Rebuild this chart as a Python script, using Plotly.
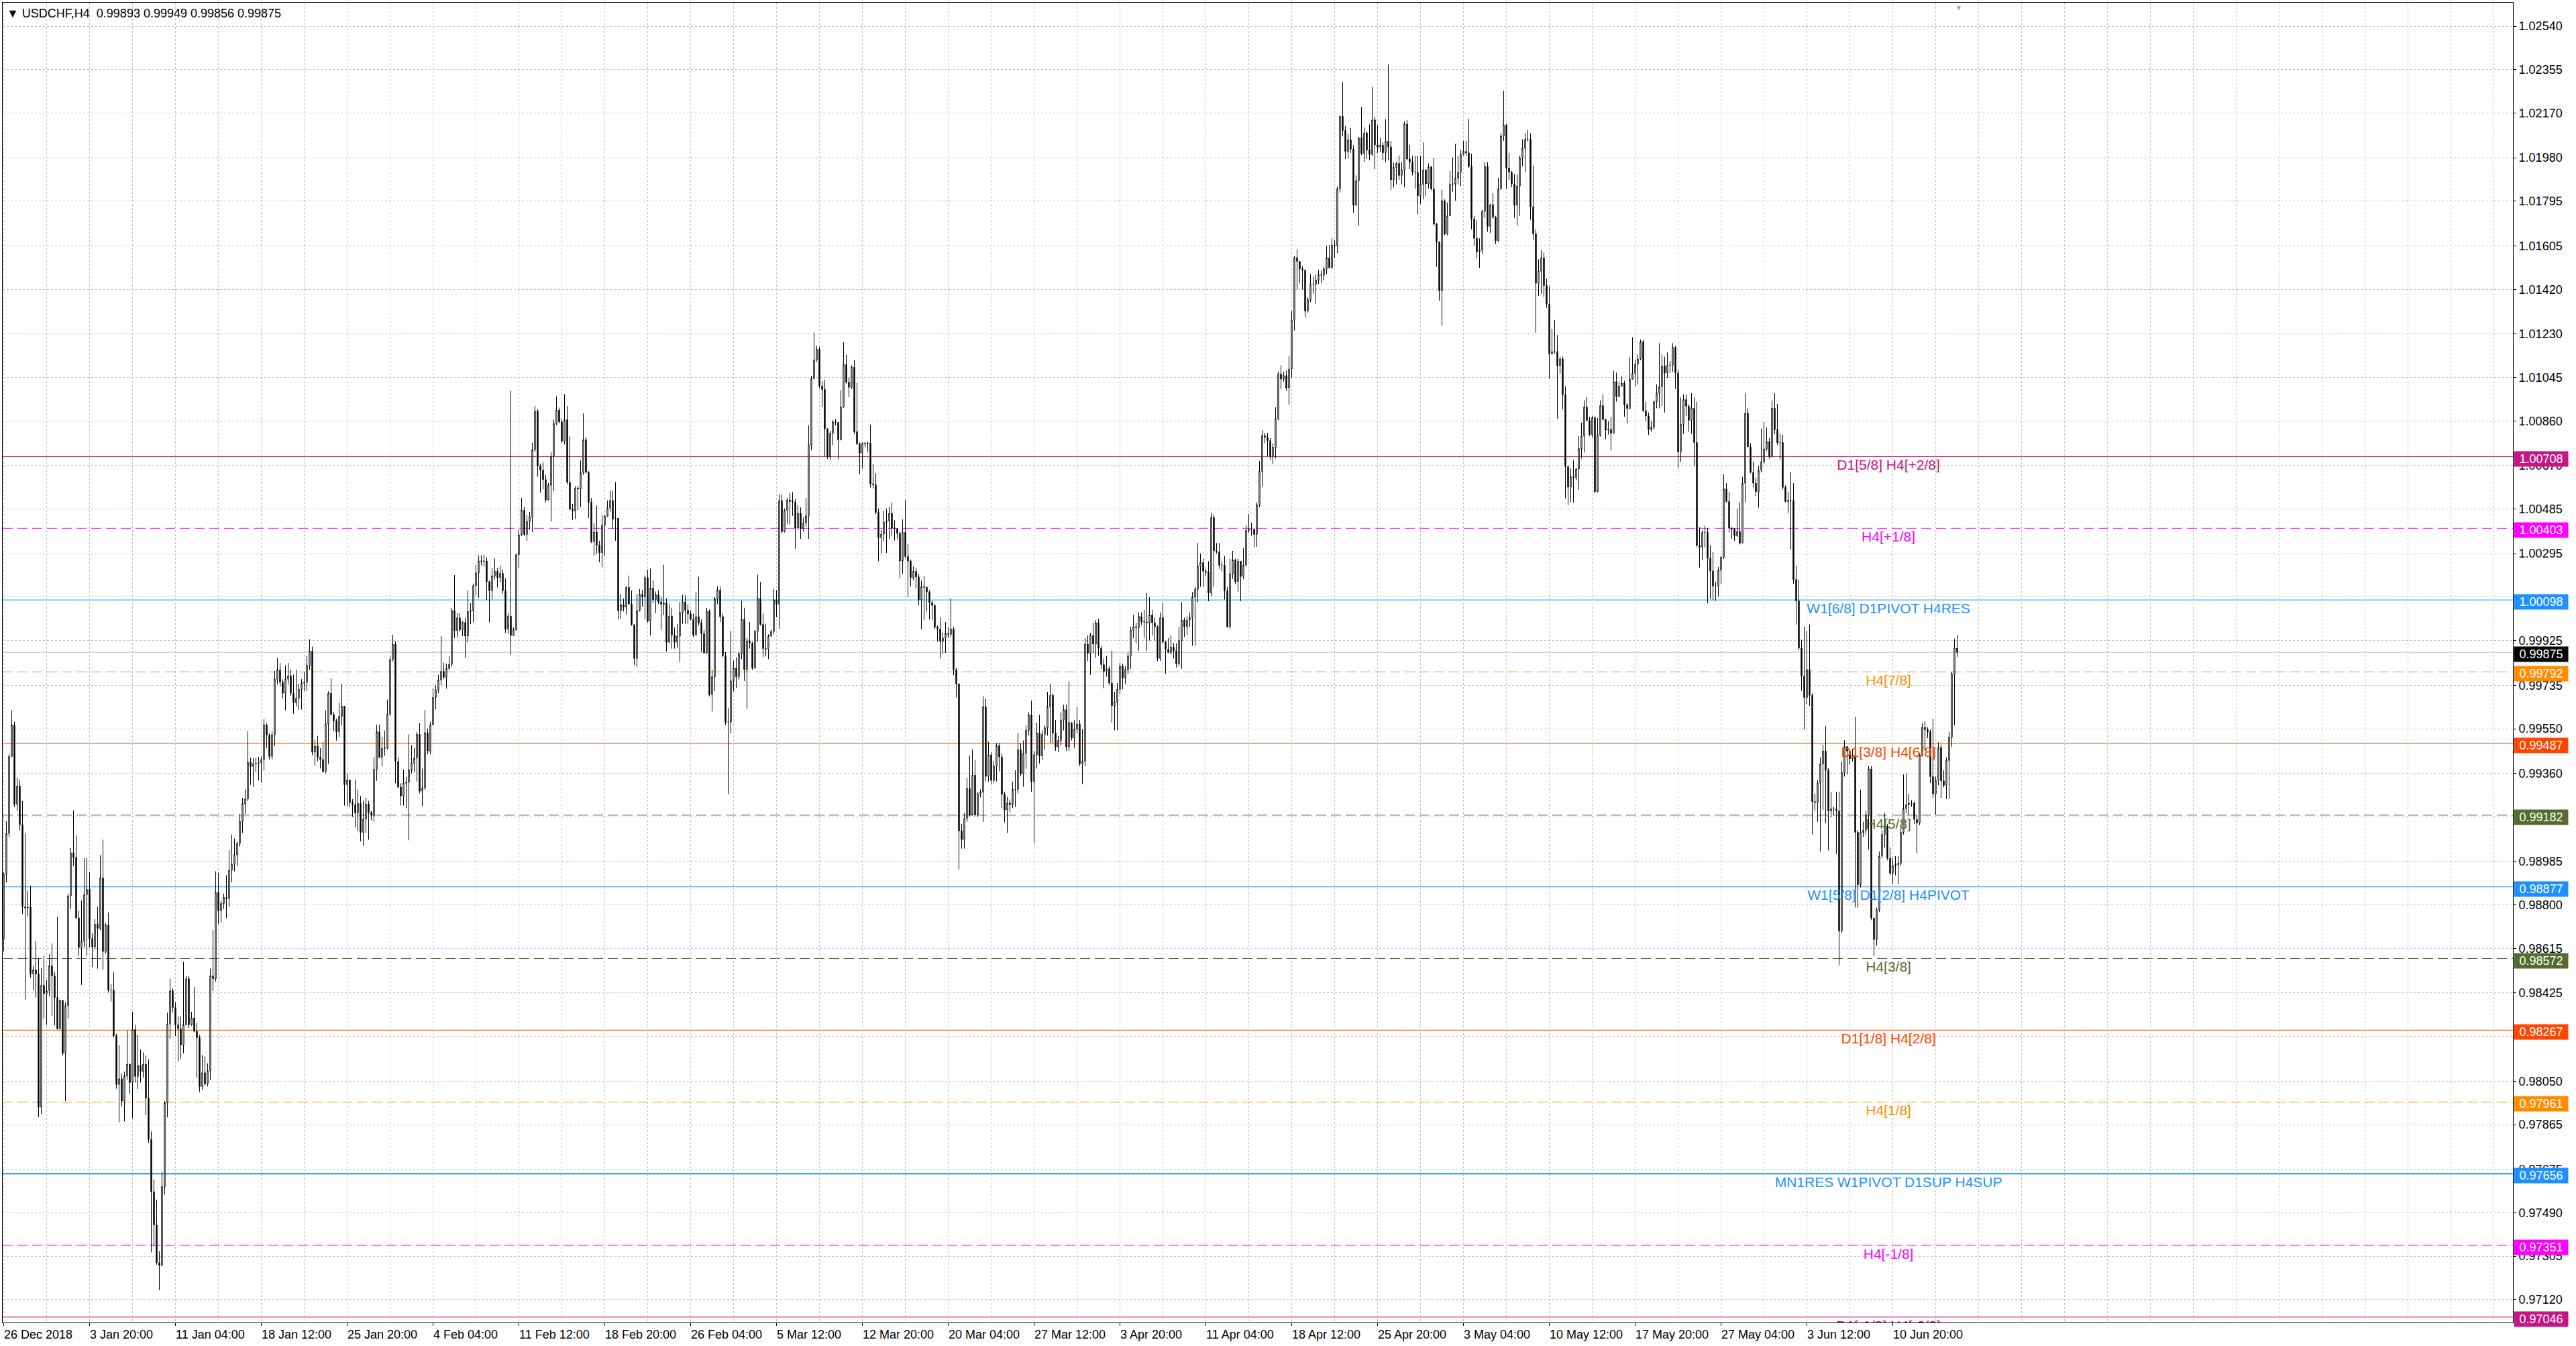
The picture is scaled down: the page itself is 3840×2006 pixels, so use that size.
import plotly.graph_objects as go

# USDCHF H4 candles, prices in 1e-5 units (points). Open of each bar = previous close.
FIRST_OPEN = 98654

CLOSE = [
    98930, 99104, 99432, 99566, 99228, 99306, 99142, 98792, 98787, 98790,  # 1
    98506, 98524, 98506, 97939, 98458, 98423, 98435, 98541, 98498, 98406,  # 11
    98273, 98394, 98169, 98371, 98839, 99022, 99003, 98745, 98619, 98645,  # 21
    98844, 98866, 98657, 98622, 98718, 98700, 98915, 98602, 98714, 98437,  # 31
    98437, 98243, 98036, 98060, 97965, 98072, 98122, 98044, 98269, 98070,  # 41
    98117, 98091, 98122, 97978, 97802, 97580, 97438, 97277, 97265, 97601,  # 51
    97958, 98293, 98435, 98363, 98290, 98273, 98204, 98290, 98486, 98290,  # 61
    98319, 98262, 98235, 98027, 98086, 98039, 98094, 98498, 98486, 98853,  # 71
    98775, 98806, 98832, 98827, 98948, 98974, 99014, 99062, 99156, 99230,  # 81
    99251, 99407, 99389, 99401, 99403, 99405, 99419, 99566, 99523, 99432,  # 91
    99524, 99761, 99800, 99748, 99701, 99761, 99775, 99701, 99660, 99680,  # 101
    99718, 99744, 99748, 99820, 99880, 99450, 99476, 99429, 99419, 99368,  # 111
    99571, 99701, 99611, 99583, 99537, 99603, 99646, 99312, 99332, 99236,  # 121
    99227, 99191, 99232, 99109, 99165, 99229, 99193, 99182, 99377, 99537,  # 131
    99428, 99466, 99469, 99612, 99844, 99909, 99411, 99302, 99264, 99318,  # 141
    99322, 99376, 99403, 99425, 99526, 99284, 99298, 99533, 99455, 99567,  # 151
    99683, 99715, 99758, 99794, 99769, 99806, 99824, 100053, 99967, 100022,  # 161
    99971, 100002, 99944, 100049, 100052, 100159, 100213, 100264, 100262, 100264,  # 171
    100176, 100138, 100200, 100220, 100193, 100211, 100138, 99974, 100029, 99947,  # 181
    99971, 100291, 100375, 100480, 100377, 100432, 100452, 100737, 100901, 100668,  # 191
    100651, 100610, 100524, 100586, 100709, 100849, 100906, 100856, 100774, 100865,  # 201
    100599, 100484, 100476, 100575, 100570, 100640, 100780, 100641, 100514, 100346,  # 211
    100387, 100332, 100299, 100416, 100455, 100489, 100521, 100442, 100446, 100053,  # 221
    100077, 100067, 100152, 100081, 99992, 99849, 100053, 100122, 100111, 100193,  # 231
    100008, 100148, 100100, 100120, 100090, 100080, 100085, 99918, 100030, 99949,  # 241
    99918, 99944, 100045, 100090, 100054, 100039, 100016, 99949, 100027, 100000,  # 251
    99955, 99873, 100050, 99695, 99771, 100102, 100140, 100027, 99861, 99578,  # 261
    99578, 99753, 99808, 99771, 99869, 100015, 99801, 99924, 99914, 99808,  # 271
    99964, 100105, 99994, 99891, 99888, 99944, 99964, 100099, 100080, 100521,  # 281
    100389, 100479, 100524, 100517, 100515, 100404, 100467, 100401, 100426, 100456,  # 291
    100758, 101040, 101120, 101165, 101009, 100994, 100826, 100708, 100808, 100856,  # 301
    100853, 100780, 100919, 101100, 101025, 101003, 101089, 100814, 100762, 100723,  # 311
    100765, 100762, 100765, 100592, 100588, 100471, 100363, 100378, 100429, 100434,  # 321
    100467, 100404, 100401, 100381, 100264, 100386, 100283, 100264, 100193, 100220,  # 331
    100196, 100099, 100155, 100152, 100132, 100087, 100075, 99982, 99974, 99921,  # 341
    99936, 99955, 99952, 99974, 99801, 99741, 99115, 99078, 99168, 99296,  # 351
    99183, 99352, 99183, 99273, 99281, 99643, 99347, 99439, 99330, 99391,  # 361
    99478, 99430, 99271, 99205, 99234, 99227, 99292, 99292, 99460, 99358,  # 371
    99445, 99543, 99609, 99325, 99439, 99532, 99434, 99526, 99554, 99642,  # 381
    99692, 99532, 99473, 99500, 99587, 99631, 99473, 99576, 99511, 99548,  # 391
    99570, 99401, 99412, 99910, 99871, 99947, 99910, 100001, 99892, 99823,  # 401
    99794, 99805, 99744, 99648, 99663, 99718, 99816, 99766, 99801, 99860,  # 411
    99969, 99984, 99980, 100028, 100006, 100004, 100001, 100034, 100001, 99984,  # 421
    99849, 100023, 99919, 99888, 99875, 99897, 99882, 99827, 99925, 100012,  # 431
    99984, 100012, 100023, 100110, 100143, 100242, 100257, 100220, 100215, 100128,  # 441
    100449, 100307, 100302, 100246, 100246, 100137, 99984, 100209, 100268, 100176,  # 451
    100263, 100198, 100246, 100394, 100399, 100399, 100377, 100503, 100645, 100798,  # 461
    100791, 100776, 100710, 100748, 100870, 101060, 101038, 101053, 101001, 101081,  # 471
    101289, 101555, 101539, 101507, 101502, 101328, 101376, 101441, 101441, 101460,  # 481
    101482, 101480, 101507, 101554, 101512, 101608, 101605, 101848, 102156, 102096,  # 491
    102007, 102056, 102017, 101778, 101882, 102065, 101998, 102086, 102013, 101994,  # 501
    102141, 102035, 102025, 102033, 102001, 102050, 102026, 101886, 101939, 101956,  # 511
    101905, 101928, 102124, 101975, 101962, 101918, 101918, 101818, 101867, 101928,  # 521
    101869, 101941, 101848, 101698, 101621, 101414, 101797, 101656, 101733, 101867,  # 531
    101869, 101892, 101918, 101994, 102007, 102001, 101943, 101720, 101637, 101580,  # 541
    101586, 101752, 101943, 101688, 101780, 101727, 101627, 101848, 102073, 102119,  # 551
    101937, 101918, 101869, 101778, 101860, 101979, 102020, 102058, 102058, 101771,  # 561
    101656, 101446, 101497, 101554, 101436, 101357, 101146, 101155, 101155, 101095,  # 571
    101124, 100971, 100665, 100578, 100623, 100619, 100655, 100742, 100795, 100919,  # 581
    100862, 100802, 100874, 100559, 100798, 100925, 100866, 100821, 100824, 100808,  # 591
    101027, 100964, 101007, 101021, 100929, 100913, 101038, 101063, 101101, 101124,  # 601
    101197, 100904, 100881, 100823, 100832, 100942, 100978, 101005, 101093, 101064,  # 611
    101097, 101097, 101173, 101064, 100728, 100845, 100951, 100923, 100863, 100914,  # 621
    100768, 100331, 100322, 100385, 100385, 100276, 100221, 100157, 100157, 100225,  # 631
    100280, 100571, 100517, 100404, 100400, 100371, 100389, 100340, 100595, 100892,  # 641
    100750, 100641, 100595, 100559, 100650, 100686, 100741, 100772, 100710, 100914,  # 651
    100823, 100768, 100768, 100577, 100517, 100522, 100522, 100185, 100094, 99893,  # 661
    99775, 99683, 99802, 99692, 99240, 99236, 99318, 99400, 99455, 99373,  # 671
    99200, 99209, 99209, 99200, 98689, 99364, 99474, 99455, 99422, 99437,  # 681
    99109, 98886, 99109, 99118, 99182, 99379, 98744, 98653, 98780, 99008,  # 691
    99100, 99136, 98999, 98935, 98966, 98972, 98977, 99109, 99209, 99227,  # 701
    99233, 99233, 99164, 99149, 99437, 99556, 99546, 99537, 99346, 99273,  # 711
    99331, 99470, 99328, 99309, 99415, 99514, 99783, 99893, 99875,  # 721
]

HIGH = [
    98939, 99156, 99441, 99628, 99580, 99342, 99332, 99242, 99104, 98861,
    98882, 98541, 98647, 98571, 98532, 98584, 98480, 98590, 98636, 98515,
    98749, 98397, 98377, 98385, 98847, 99043, 99202, 99097, 98775, 98818,
    99000, 99000, 98939, 98680, 98740, 98792, 99012, 99078, 98723, 98768,
    98463, 98515, 98252, 98204, 98083, 98091, 98266, 98126, 98345, 98290,
    98247, 98186, 98172, 98160, 98143, 97836, 97632, 97546, 97326, 97663,
    97966, 98342, 98487, 98446, 98385, 98325, 98325, 98558, 98498, 98498,
    98345, 98451, 98297, 98247, 98160, 98155, 98126, 98529, 98693, 98943,
    98936, 98818, 98848, 98927, 99034, 99100, 99083, 99069, 99187, 99256,
    99294, 99540, 99427, 99424, 99426, 99430, 99432, 99592, 99574, 99530,
    99540, 99796, 99850, 99830, 99760, 99820, 99830, 99800, 99780, 99800,
    99740, 99761, 99790, 99860, 99930, 99900, 99502, 99519, 99467, 99493,
    99628, 99709, 99765, 99622, 99592, 99660, 99742, 99646, 99357, 99310,
    99250, 99332, 99291, 99264, 99243, 99257, 99243, 99200, 99430, 99567,
    99568, 99516, 99542, 99674, 99858, 99950, 99922, 99430, 99318, 99376,
    99346, 99526, 99480, 99469, 99537, 99574, 99380, 99630, 99551, 99580,
    99721, 99735, 99780, 99944, 99831, 99827, 99858, 100063, 100204, 100042,
    100042, 100008, 100022, 100138, 100084, 100168, 100247, 100288, 100288, 100290,
    100280, 100180, 100234, 100275, 100234, 100245, 100227, 100190, 100042, 100988,
    99981, 100295, 100398, 100532, 100493, 100459, 100473, 100767, 100924, 100910,
    100678, 100685, 100630, 100596, 100726, 100865, 100965, 100917, 100869, 100974,
    100924, 100794, 100507, 100582, 100582, 100692, 100892, 100791, 100646, 100532,
    100425, 100500, 100350, 100459, 100459, 100521, 100565, 100562, 100600, 100448,
    100124, 100104, 100155, 100202, 100138, 99995, 100124, 100145, 100141, 100202,
    100227, 100231, 100182, 100134, 100140, 100110, 100248, 100105, 100080, 100065,
    99981, 99997, 100090, 100120, 100118, 100080, 100054, 100040, 100132, 100196,
    100015, 99970, 100065, 100058, 99801, 100110, 100155, 100155, 100040, 99876,
    99638, 99967, 99839, 99854, 99876, 100095, 100065, 99936, 100004, 99920,
    99970, 100205, 100175, 100040, 99997, 99952, 99970, 100144, 100140, 100547,
    100547, 100487, 100532, 100554, 100557, 100527, 100502, 100492, 100449, 100532,
    100841, 101052, 101236, 101180, 101175, 101029, 101034, 100829, 100818, 100863,
    100868, 100856, 100991, 101195, 101142, 101044, 101097, 101120, 101022, 100768,
    100768, 100770, 100772, 100844, 100675, 100637, 100487, 100396, 100479, 100487,
    100494, 100512, 100437, 100404, 100389, 100441, 100524, 100336, 100270, 100241,
    100235, 100208, 100181, 100200, 100155, 100140, 100095, 100080, 99990, 100024,
    99959, 100004, 99982, 100105, 99982, 99808, 99744, 99145, 99190, 99341,
    99436, 99462, 99417, 99281, 99292, 99688, 99679, 99495, 99450, 99412,
    99489, 99489, 99445, 99282, 99260, 99249, 99325, 99373, 99532, 99489,
    99500, 99565, 99620, 99670, 99456, 99576, 99609, 99543, 99565, 99707,
    99740, 99700, 99587, 99520, 99620, 99652, 99652, 99751, 99570, 99587,
    99642, 99587, 99548, 99936, 99947, 99958, 100001, 100012, 100018, 99903,
    99849, 99860, 99816, 99882, 99707, 99744, 99831, 99827, 99816, 99875,
    99984, 100034, 100001, 100045, 100045, 100056, 100128, 100110, 100056, 100023,
    99990, 100045, 100089, 99925, 99936, 99947, 99914, 99914, 99984, 100089,
    100023, 100028, 100045, 100132, 100154, 100340, 100296, 100274, 100231, 100263,
    100470, 100460, 100340, 100340, 100263, 100285, 100154, 100274, 100307, 100274,
    100274, 100242, 100318, 100416, 100464, 100427, 100405, 100514, 100689, 100820,
    100809, 100809, 100787, 100765, 100918, 101070, 101097, 101070, 101075, 101136,
    101328, 101562, 101590, 101539, 101518, 101502, 101387, 101485, 101474, 101484,
    101503, 101500, 101516, 101605, 101608, 101637, 101631, 101857, 102160, 102303,
    102116, 102081, 102107, 102033, 101905, 102067, 102196, 102109, 102094, 102122,
    102281, 102154, 102119, 102065, 102045, 102145, 102377, 102052, 101959, 101962,
    101990, 101962, 102135, 102141, 102035, 101988, 101988, 101988, 101988, 102045,
    101931, 101956, 101946, 101979, 101703, 101625, 101844, 101803, 101790, 101924,
    101982, 102039, 101988, 102013, 102052, 102052, 102145, 101997, 101733, 101714,
    101637, 101758, 101962, 101962, 101784, 101829, 101733, 101895, 102084, 102265,
    102124, 102001, 101924, 101911, 101911, 101988, 102058, 102084, 102099, 102084,
    101946, 101675, 101548, 101586, 101576, 101465, 101431, 101252, 101290, 101226,
    101133, 101133, 101007, 100670, 100658, 100693, 100661, 100795, 100853, 100948,
    100961, 100878, 100882, 100878, 100872, 100948, 100974, 100870, 100859, 100878,
    101073, 101066, 101027, 101050, 101031, 100935, 101130, 101216, 101121, 101142,
    101206, 101205, 100942, 100896, 100860, 100947, 101015, 101191, 101142, 101133,
    101151, 101115, 101191, 101179, 101078, 100960, 100973, 100973, 100929, 100978,
    100960, 100942, 100407, 100394, 100413, 100404, 100331, 100303, 100176, 100239,
    100285, 100632, 100595, 100559, 100407, 100404, 100486, 100513, 100622, 100978,
    100914, 100765, 100686, 100619, 100668, 100827, 100856, 100832, 100787, 100947,
    100978, 100932, 100805, 100801, 100586, 100559, 100641, 100595, 100243, 100185,
    99929, 99984, 99966, 99993, 99701, 99273, 99331, 99428, 99483, 99561,
    99382, 99282, 99218, 99282, 99282, 99410, 99501, 99474, 99446, 99464,
    99601, 99118, 99291, 99154, 99200, 99391, 99391, 98744, 98789, 99027,
    99118, 99191, 99145, 99045, 98999, 99008, 99008, 99127, 99355, 99360,
    99273, 99246, 99240, 99182, 99446, 99574, 99583, 99556, 99546, 99592,
    99346, 99492, 99483, 99373, 99428, 99537, 99793, 99933, 99949,
]

LOW = [
    98602, 98896, 99090, 99436, 99216, 99199, 99117, 98761, 98397, 98750,
    98490, 98437, 98406, 97897, 97909, 98316, 98290, 98411, 98328, 98287,
    98270, 98270, 98160, 97965, 98316, 98783, 98965, 98740, 98584, 98460,
    98619, 98584, 98619, 98536, 98610, 98529, 98692, 98524, 98593, 98428,
    98389, 98238, 98018, 97875, 97943, 97879, 98056, 97996, 97892, 98044,
    98016, 98044, 98065, 97906, 97788, 97321, 97347, 97269, 97161, 97265,
    97566, 97896, 98230, 98342, 98242, 98134, 98146, 98169, 98290, 98276,
    98286, 98259, 98065, 98004, 98013, 98030, 98027, 98056, 98434, 98474,
    98719, 98726, 98783, 98744, 98792, 98896, 98943, 98965, 99048, 99107,
    99187, 99242, 99311, 99303, 99367, 99330, 99320, 99372, 99467, 99420,
    99420, 99476, 99740, 99730, 99680, 99628, 99740, 99690, 99614, 99644,
    99630, 99632, 99710, 99710, 99800, 99436, 99394, 99412, 99381, 99363,
    99360, 99400, 99606, 99540, 99500, 99516, 99564, 99223, 99219, 99216,
    99175, 99130, 99113, 99070, 99052, 99107, 99078, 99160, 99154, 99328,
    99425, 99391, 99435, 99462, 99605, 99837, 99318, 99298, 99223, 99223,
    99212, 99075, 99359, 99366, 99325, 99275, 99220, 99290, 99441, 99441,
    99564, 99633, 99701, 99735, 99762, 99721, 99800, 99813, 99936, 99940,
    99963, 99944, 99851, 99917, 99995, 100002, 100118, 100108, 100245, 100240,
    100097, 100002, 100100, 100186, 100152, 100172, 100125, 99958, 99954, 99865,
    99944, 99967, 100234, 100370, 100370, 100350, 100398, 100387, 100726, 100623,
    100555, 100569, 100514, 100521, 100432, 100562, 100842, 100849, 100767, 100760,
    100589, 100480, 100439, 100443, 100480, 100493, 100630, 100637, 100446, 100340,
    100286, 100295, 100258, 100237, 100286, 100452, 100473, 100401, 100350, 100015,
    100018, 100049, 100036, 100077, 99988, 99821, 99813, 100049, 100070, 100015,
    100002, 99947, 100084, 100042, 100080, 99970, 100034, 99879, 99915, 99891,
    99891, 99894, 99834, 99997, 99997, 99997, 100012, 99939, 99945, 99989,
    99876, 99869, 99869, 99688, 99623, 99710, 100080, 100004, 99854, 99567,
    99270, 99530, 99710, 99723, 99759, 99846, 99753, 99635, 99891, 99801,
    99808, 99922, 99989, 99854, 99858, 99846, 99940, 99952, 100024, 99974,
    100381, 100385, 100422, 100419, 100456, 100316, 100396, 100358, 100389, 100411,
    100358, 100735, 101037, 101112, 100999, 100919, 100708, 100698, 100693, 100758,
    100841, 100698, 100777, 100916, 101019, 100961, 100995, 100803, 100758, 100633,
    100657, 100748, 100728, 100577, 100572, 100464, 100263, 100298, 100346, 100298,
    100358, 100369, 100351, 100358, 100190, 100208, 100276, 100110, 100155, 100181,
    100147, 100075, 99974, 100012, 100050, 100015, 100012, 99974, 99921, 99849,
    99869, 99873, 99936, 99940, 99778, 99683, 98950, 99040, 99040, 99153,
    99176, 99180, 99176, 99176, 99258, 99153, 99325, 99325, 99314, 99320,
    99325, 99369, 99212, 99151, 99107, 99194, 99212, 99216, 99275, 99347,
    99303, 99380, 99521, 99282, 99063, 99380, 99402, 99417, 99460, 99521,
    99489, 99489, 99456, 99450, 99478, 99543, 99456, 99456, 99500, 99467,
    99532, 99391, 99314, 99391, 99838, 99779, 99871, 99853, 99860, 99805,
    99722, 99772, 99735, 99576, 99543, 99543, 99696, 99718, 99740, 99783,
    99805, 99936, 99914, 99882, 99990, 99936, 99882, 99925, 99947, 99925,
    99838, 99838, 99914, 99783, 99871, 99866, 99849, 99810, 99816, 99805,
    99940, 99947, 99984, 99903, 99903, 100089, 100154, 100154, 100202, 100093,
    100115, 100154, 100296, 100231, 100220, 100100, 99980, 99975, 100187, 100165,
    100132, 100093, 100187, 100242, 100383, 100372, 100324, 100324, 100492, 100580,
    100765, 100710, 100695, 100678, 100700, 100863, 100994, 101027, 100988, 100929,
    101044, 101245, 101419, 101446, 101419, 101300, 101321, 101365, 101402, 101359,
    101443, 101446, 101459, 101484, 101510, 101507, 101554, 101573, 101831, 102071,
    101975, 101979, 102001, 101746, 101775, 101691, 101991, 101962, 101975, 101969,
    101988, 101931, 102001, 102005, 101969, 101962, 101969, 101841, 101854, 101867,
    101886, 101867, 101854, 101969, 101931, 101905, 101848, 101739, 101784, 101803,
    101816, 101848, 101841, 101691, 101516, 101372, 101265, 101650, 101650, 101733,
    101835, 101797, 101867, 101860, 101990, 101988, 101937, 101675, 101605, 101554,
    101512, 101571, 101724, 101665, 101660, 101720, 101612, 101622, 101844, 102052,
    101848, 101886, 101854, 101724, 101691, 101733, 101943, 101920, 102048, 101716,
    101631, 101235, 101392, 101401, 101388, 101341, 101040, 101142, 101146, 100869,
    101061, 100910, 100530, 100502, 100515, 100512, 100607, 100568, 100700, 100725,
    100859, 100795, 100789, 100553, 100557, 100793, 100862, 100783, 100802, 100734,
    100805, 100942, 100961, 101012, 100878, 100849, 100910, 101036, 101006, 101015,
    101118, 100898, 100860, 100801, 100814, 100823, 100914, 100914, 100923, 100896,
    101042, 101064, 101069, 100996, 100659, 100686, 100805, 100881, 100814, 100805,
    100668, 100322, 100236, 100267, 100322, 100084, 100103, 100097, 100094, 100112,
    100166, 100272, 100513, 100385, 100358, 100349, 100365, 100334, 100345, 100513,
    100747, 100637, 100577, 100540, 100491, 100641, 100677, 100732, 100699, 100705,
    100805, 100759, 100695, 100568, 100513, 100467, 100312, 100166, 99993, 99884,
    99711, 99546, 99656, 99647, 99100, 99200, 99154, 99027, 99204, 99149,
    99032, 99173, 99182, 99018, 98543, 98680, 99346, 99355, 99397, 99410,
    98789, 98789, 98875, 99090, 99100, 99036, 98735, 98583, 98626, 98770,
    98999, 99045, 98990, 98926, 98890, 98926, 98890, 98966, 99100, 99191,
    99182, 99218, 99145, 99021, 99140, 99432, 99455, 99510, 99318, 99255,
    99182, 99309, 99255, 99300, 99251, 99251, 99473, 99565, 99856,
]

# Horizontal Murrey-style levels and their captions
LEVELS = [1.00708, 1.00403, 1.00098, 0.99792, 0.99487, 0.99182, 0.98877,
          0.98572, 0.98267, 0.97961, 0.97656, 0.97351, 0.97046]
LEVEL_NAMES = ["D1[5/8] H4[+2/8]", "H4[+1/8]", "W1[6/8] D1PIVOT H4RES",
               "H4[7/8]", "D1[3/8] H4[6/8]", "H4[5/8]", "W1[5/8] D1[2/8] H4PIVOT",
               "H4[3/8]", "D1[1/8] H4[2/8]", "H4[1/8]", "MN1RES W1PIVOT D1SUP H4SUP",
               "H4[-1/8]", "D1[-1/8] H4[-2/8]"]

Y_TICKS = [1.02540, 1.02355, 1.02170, 1.01980, 1.01795, 1.01605, 1.01420, 1.01230,
           1.01045, 1.00860, 1.00670, 1.00485, 1.00295, 1.00110, 0.99925, 0.99735,
           0.99550, 0.99360, 0.99175, 0.98985, 0.98800, 0.98615, 0.98425, 0.98240,
           0.98050, 0.97865, 0.97675, 0.97490, 0.97305, 0.97120]

X_LABELS = ["26 Dec 2018", "3 Jan 20:00", "11 Jan 04:00", "18 Jan 12:00", "25 Jan 20:00",
            "4 Feb 04:00", "11 Feb 12:00", "18 Feb 20:00", "26 Feb 04:00", "5 Mar 12:00",
            "12 Mar 20:00", "20 Mar 04:00", "27 Mar 12:00", "3 Apr 20:00", "11 Apr 04:00",
            "18 Apr 12:00", "25 Apr 20:00", "3 May 04:00", "10 May 12:00", "17 May 20:00",
            "27 May 04:00", "3 Jun 12:00", "10 Jun 20:00"]
BARS_PER_LABEL = 32

# ---- styling ----
FONT = "Liberation Sans, Arial, sans-serif"
MVR, MAG, BLUE, ORG, RED, OLV = "#C71585", "#FF00FF", "#1E90FF", "#FF8C00", "#FF4500", "#556B2F"
LEVEL_STYLE = [(MVR, 1, "solid"), (MAG, 1, "15px,7px"), (BLUE, 1, "solid"),
               (ORG, 1, "15px,7px"), (RED, 1, "solid"), (OLV, 1, "15px,7px"),
               (BLUE, 1, "solid"), (OLV, 1, "15px,7px"), (RED, 1, "solid"),
               (ORG, 1, "15px,7px"), (BLUE, 2, "solid"), (MAG, 1, "15px,7px"),
               (MVR, 1, "solid")]
GRID = "#C0C0C0"
CAPTION_BAR = 703.4
Y_RANGE = [0.970228, 1.02640]
PLOT_H = 2006 - 4 - 35
PX = (Y_RANGE[1] - Y_RANGE[0]) / PLOT_H      # price per pixel

n = min(len(CLOSE), len(HIGH), len(LOW))
bars = list(range(1, n + 1))
opens = [FIRST_OPEN] + CLOSE[:n - 1]
o = [v / 1e5 for v in opens]
c = [v / 1e5 for v in CLOSE[:n]]
h = [max(a, b, x) / 1e5 for a, b, x in zip(opens, CLOSE[:n], HIGH[:n])]
l = [min(a, b, x) / 1e5 for a, b, x in zip(opens, CLOSE[:n], LOW[:n])]
last_close = c[-1]

fig = go.Figure()

# level captions (clipped to the plot area like the terminal does), a few px under the line
fig.add_trace(go.Scatter(
    x=[CAPTION_BAR] * len(LEVELS), y=[lv - 4 * PX for lv in LEVELS], mode="text",
    text=LEVEL_NAMES, textposition="bottom center",
    textfont=dict(family=FONT, size=21, color=[s[0] for s in LEVEL_STYLE]),
    hoverinfo="skip", showlegend=False, cliponaxis=True))

fig.add_trace(go.Candlestick(
    x=bars, open=o, high=h, low=l, close=c,
    increasing=dict(line=dict(color="black", width=1), fillcolor="white"),
    decreasing=dict(line=dict(color="black", width=1), fillcolor="black"),
    whiskerwidth=0, showlegend=False, hoverinfo="skip"))

shapes = []
for lv, (col, w, dash) in zip(LEVELS, LEVEL_STYLE):
    shapes.append(dict(type="line", xref="paper", x0=0, x1=1, yref="y", y0=lv, y1=lv,
                       line=dict(color=col, width=w, dash=dash), layer="between"))
shapes.append(dict(type="line", xref="paper", x0=0, x1=1, yref="y", y0=last_close,
                   y1=last_close, line=dict(color="#C0C0C0", width=1), layer="between"))

annotations = []
# price tags on the axis (drawn slightly below their line, like the terminal)
TAG_SHIFT = 3
tags = [(lv, s[0]) for lv, s in zip(LEVELS, LEVEL_STYLE)] + [(last_close, "black")]
for lv, col in tags:
    annotations.append(dict(xref="paper", x=1, xanchor="left", xshift=1, yref="y", y=lv,
                            yanchor="middle", yshift=-TAG_SHIFT, text=f"{lv:.5f}",
                            showarrow=False, bgcolor=col, width=80, height=22, borderpad=0,
                            font=dict(family=FONT, size=18, color="white")))

# tick labels that sit fully under a price tag are left blank
def tick_text(v):
    covered = any(abs(v - (lv - TAG_SHIFT * PX)) < 7.5 * PX for lv, _ in tags)
    return "" if covered else f"{v:.5f}"

# time labels, left-aligned to their tick like the terminal
label_bars = [1 + i * BARS_PER_LABEL for i in range(len(X_LABELS))]
for b, t in zip(label_bars, X_LABELS):
    annotations.append(dict(xref="x", x=b, xanchor="left", xshift=-2, yref="paper", y=0,
                            yanchor="top", yshift=-6, text=t, showarrow=False,
                            font=dict(family=FONT, size=18, color="black")))

# header with symbol and last bar OHLC
hdr = "USDCHF,H4\u00a0\u00a0" + " ".join(f"{v:.5f}" for v in (o[-1], h[-1], l[-1], c[-1]))
annotations.append(dict(xref="paper", x=0, xanchor="left", xshift=4, yref="paper", y=1,
                        yanchor="top", yshift=-4, text="\u25BC " + hdr, showarrow=False,
                        font=dict(family=FONT, size=18, color="black")))
# chart shift marker
annotations.append(dict(xref="x", x=bars[-1] + 0.5, yref="paper", y=1, yanchor="top",
                        text="\u25BC", showarrow=False,
                        font=dict(family=FONT, size=10, color="#A0A0A0")))

fig.update_layout(
    width=3840, height=2006,
    margin=dict(l=4, r=94, t=4, b=35),
    paper_bgcolor="white", plot_bgcolor="white",
    font=dict(family=FONT, size=18, color="black"),
    showlegend=False, hovermode=False, boxgap=0.5,
    shapes=shapes, annotations=annotations,
    xaxis=dict(range=[0.625, 936.125], tickmode="array", tickvals=label_bars,
               showticklabels=False, ticks="outside", ticklen=4, tickcolor="black",
               showgrid=True, gridcolor=GRID, griddash="3px,3px", gridwidth=1,
               minor=dict(tick0=1, dtick=16, showgrid=True, gridcolor=GRID,
                          griddash="3px,3px", gridwidth=1, ticks=""),
               showline=True, linecolor="black", linewidth=1, mirror=True,
               zeroline=False, rangeslider=dict(visible=False), fixedrange=True),
    yaxis=dict(range=Y_RANGE, side="right", tickmode="array",
               tickvals=Y_TICKS, ticktext=[tick_text(v) for v in Y_TICKS],
               ticks="outside", ticklen=4, tickcolor="black",
               tickfont=dict(family=FONT, size=18, color="black"),
               showgrid=True, gridcolor=GRID, griddash="3px,3px", gridwidth=1,
               showline=True, linecolor="black", linewidth=1, mirror=True,
               zeroline=False, fixedrange=True),
)

fig.write_html("out.html", config={"displayModeBar": False},
               post_script="document.body.style.margin='0';")
